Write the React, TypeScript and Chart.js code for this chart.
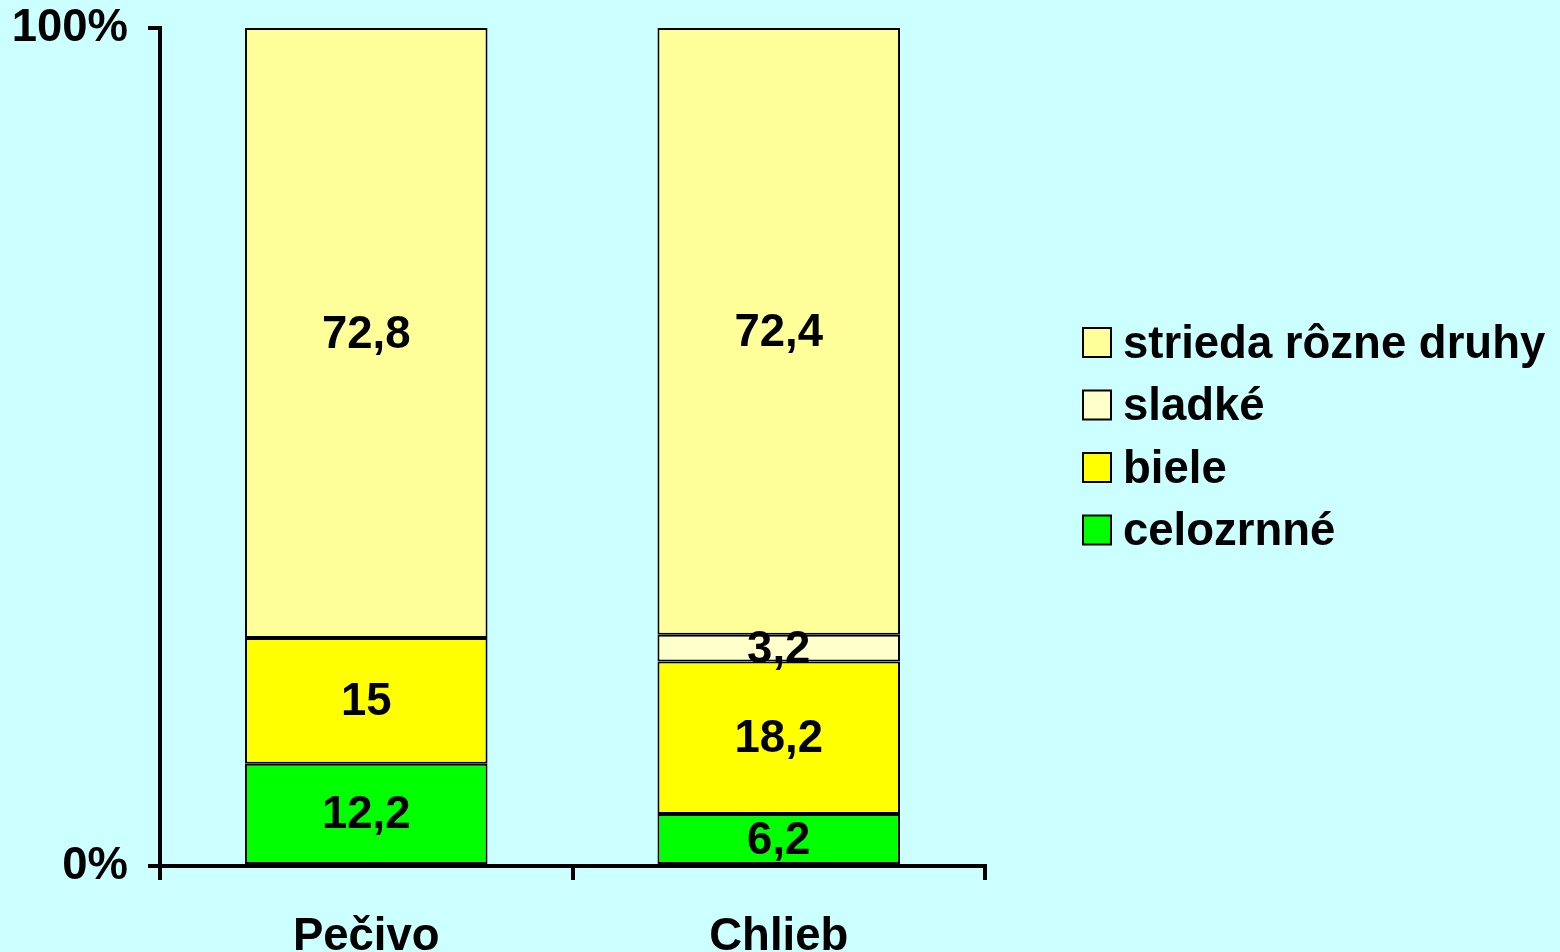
import React, { useEffect, useRef } from "react";
import { Chart, registerables } from "chart.js";

Chart.register(...registerables);

const categories = ["Pečivo", "Chlieb"];
const seriesLabels = ["celozrnné", "biele", "sladké", "strieda rôzne druhy"];
const celozrnne = [12.2, 6.2];
const biele = [15, 18.2];
const sladke = [0, 3.2];
const strieda = [72.8, 72.4];
const seriesColors = ["#00FF00", "#FFFF00", "#FFFFCC", "#FFFF99"];
const yTickLabels: Record<number, string> = { 0: "0%", 100: "100%" };

const FONT = "'Liberation Sans', Arial, sans-serif";
const FS = 45.5;

const dataLabelPlugin = {
  id: "dataLabels",
  afterDatasetsDraw(chart: any) {
    const ctx = chart.ctx;
    ctx.save();
    ctx.font = `bold ${FS}px ${FONT}`;
    ctx.fillStyle = "#000";
    ctx.textAlign = "center";
    ctx.textBaseline = "middle";
    chart.data.datasets.forEach((ds: any, di: number) => {
      const meta = chart.getDatasetMeta(di);
      meta.data.forEach((el: any, i: number) => {
        const v = ds.data[i];
        if (!v) return;
        const cy = (el.y + el.base) / 2;
        ctx.fillText(String(v).replace(".", ","), el.x, cy + 2);
      });
    });
    ctx.restore();
  },
};

const legendPlugin = {
  id: "customLegend",
  afterDraw(chart: any) {
    const ctx = chart.ctx;
    ctx.save();
    ctx.font = `bold ${FS}px ${FONT}`;
    ctx.textAlign = "left";
    ctx.textBaseline = "middle";
    const items = chart.data.datasets.map((d: any) => d).reverse();
    const x0 = 1083;
    const y0 = 328;
    const step = 62.5;
    items.forEach((ds: any, i: number) => {
      const y = y0 + i * step;
      ctx.fillStyle = ds.backgroundColor;
      ctx.fillRect(x0, y, 28, 29);
      ctx.strokeStyle = "#000";
      ctx.lineWidth = 2;
      ctx.strokeRect(x0, y, 28, 29);
      ctx.fillStyle = "#000";
      ctx.fillText(ds.label, 1123, y + 17);
    });
    ctx.restore();
  },
};

export default function App() {
  const ref = useRef<HTMLCanvasElement>(null);
  useEffect(() => {
    if (!ref.current) return;
    const values = [celozrnne, biele, sladke, strieda];
    const chart = new Chart(ref.current, {
      type: "bar",
      data: {
        labels: categories,
        datasets: seriesLabels.map((label, i) => ({
          label,
          data: values[i],
          backgroundColor: seriesColors[i],
          borderColor: "#000",
          borderWidth: 2,
          borderSkipped: false,
          barPercentage: 0.588,
          categoryPercentage: 1,
        })),
      },
      options: {
        animation: false,
        responsive: false,
        layout: { padding: { top: 28, right: 575, left: 0, bottom: 0 } },
        plugins: {
          legend: { display: false },
          tooltip: { enabled: false },
        },
        scales: {
          x: {
            stacked: true,
            afterFit: (s: any) => {
              s.height = 86;
              s.paddingLeft = 0;
              s.paddingRight = 0;
            },
            border: { display: true, color: "#000", width: 4 },
            grid: {
              display: true,
              drawOnChartArea: false,
              drawTicks: true,
              tickLength: 14,
              color: "#000",
              lineWidth: 4,
              offset: true,
            },
            ticks: {
              color: "#000",
              padding: 30,
              font: { family: FONT, size: FS, weight: "bold" },
            },
          },
          y: {
            stacked: true,
            min: 0,
            max: 100,
            afterFit: (s: any) => {
              s.width = 160;
              s.paddingTop = 0;
              s.paddingBottom = 0;
            },
            border: { display: true, color: "#000", width: 4 },
            grid: {
              display: true,
              drawOnChartArea: false,
              drawTicks: true,
              tickLength: 12,
              color: "#000",
              lineWidth: 4,
            },
            ticks: {
              stepSize: 100,
              color: "#000",
              padding: 20,
              font: { family: FONT, size: FS, weight: "bold" },
              callback: (v: any) => yTickLabels[v as number] ?? "",
            },
          },
        },
      },
      plugins: [dataLabelPlugin, legendPlugin],
    });
    return () => chart.destroy();
  }, []);
  return (
    <div style={{ position: "absolute", left: 0, top: 0, width: 1560, height: 952, background: "#CCFFFF" }}>
      <canvas ref={ref} width={1560} height={952} style={{ display: "block" }} />
    </div>
  );
}
